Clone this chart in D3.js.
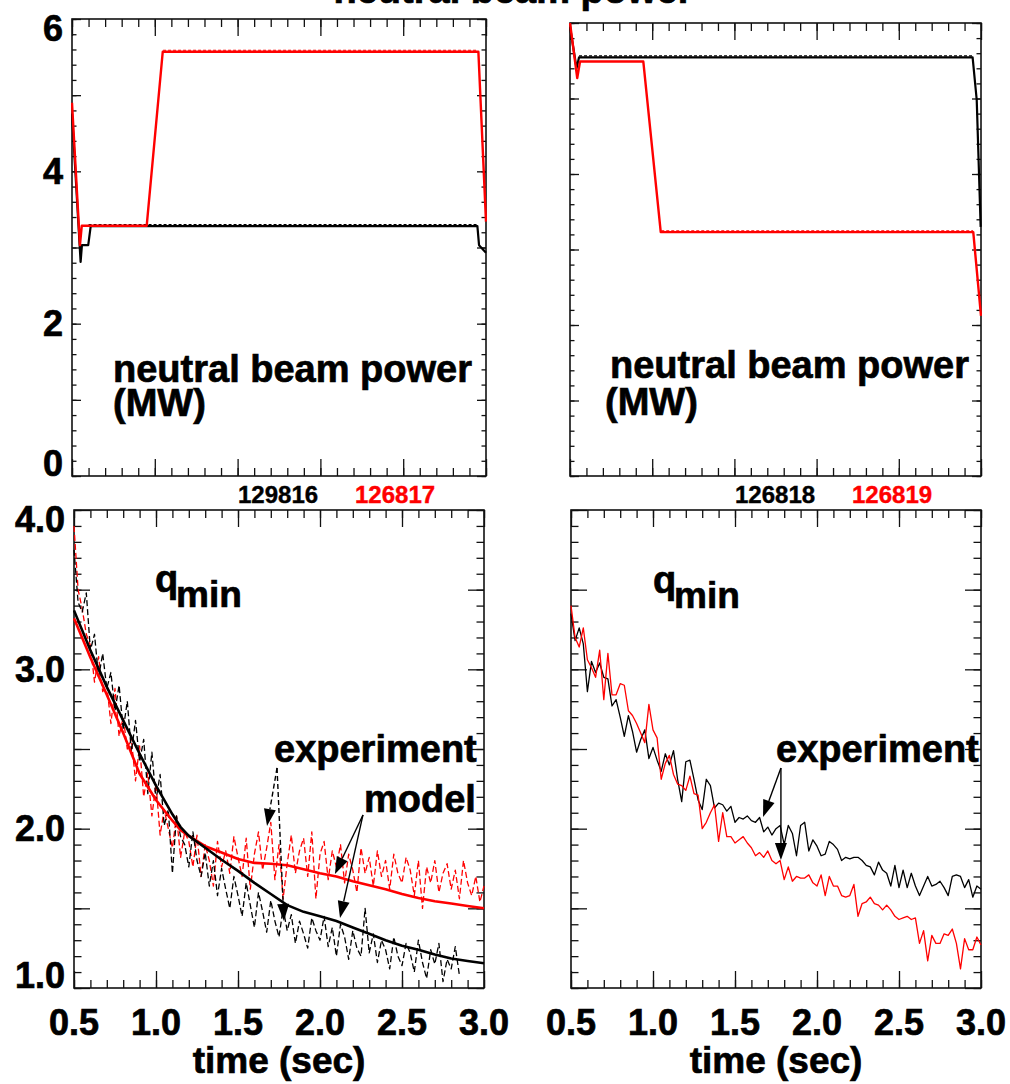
<!DOCTYPE html>
<html><head><meta charset="utf-8">
<script src="https://cdn.jsdelivr.net/npm/d3@7"></script>
<style>
html,body{margin:0;padding:0;background:#fff;}
svg{display:block;}
text{font-family:"Liberation Sans",Arial,Helvetica,sans-serif;font-weight:bold;}
</style>
</head><body>
<svg id="chart" width="1010" height="1084"></svg>
<script>
// ---------------- DATA ----------------
// Neutral beam power (MW), left: shots 129816 (black) and 126817 (red)
const nbLeftBlackT = [0.5, 0.552, 0.56, 0.598, 0.613, 2.948, 2.958, 3.0];
const nbLeftBlackV = [4.76, 2.81, 3.03, 3.03, 3.28, 3.28, 3.03, 2.93];
const nbLeftRedT   = [0.5, 0.548, 0.559, 0.951, 1.048, 2.954, 3.0];
const nbLeftRedV   = [4.90, 3.03, 3.285, 3.285, 5.57, 5.57, 3.34];
const nbLeftBlackRefT = [0.6, 2.945];
const nbLeftBlackRefV = [3.30, 3.30];
const nbLeftRedRefT   = [1.05, 2.952];
const nbLeftRedRefV   = [5.59, 5.59];
// right: shots 126818 (black) and 126819 (red)
const nbRightBlackT = [0.5, 0.54, 0.555, 2.949, 2.974, 2.998];
const nbRightBlackV = [5.95, 5.40, 5.545, 5.545, 4.98, 3.30];
const nbRightRedT   = [0.5, 0.544, 0.561, 0.946, 1.052, 2.953, 3.0];
const nbRightRedV   = [6.0, 5.27, 5.49, 5.49, 3.23, 3.23, 2.12];
const nbRightBlackRefT = [0.555, 2.948];
const nbRightBlackRefV = [5.565, 5.565];
const nbRightRedRefT   = [1.055, 2.952];
const nbRightRedRefV   = [3.248, 3.248];

// q_min model (left panel)
const modelT = [0.5,0.6,0.7,0.8,0.9,1.0,1.1,1.15,1.2,1.3,1.4,1.5,1.6,1.7,1.8,1.9,2.0,2.1,2.2,2.3,2.4,2.5,2.6,2.7,2.8,2.9,3.0];
const modelBlack = [3.37,3.12,2.89,2.68,2.47,2.27,2.09,2.01,1.955,1.88,1.805,1.735,1.66,1.59,1.52,1.478,1.45,1.42,1.38,1.34,1.30,1.265,1.24,1.21,1.185,1.17,1.155];
const modelRed   = [3.32,3.075,2.84,2.60,2.345,2.18,2.05,1.99,1.955,1.89,1.85,1.81,1.785,1.78,1.77,1.745,1.72,1.70,1.67,1.645,1.62,1.59,1.565,1.545,1.53,1.515,1.50];

// q_min experiment time base
const tExp = [0.5,0.525,0.55,0.575,0.6,0.625,0.65,0.675,0.7,0.725,0.75,0.775,0.8,0.825,0.85,0.875,0.9,0.925,0.95,0.975,
  1.0,1.025,1.05,1.075,1.1,1.125,1.15,1.175,1.2,1.225,1.25,1.275,1.3,1.325,1.35,1.375,1.4,1.425,1.45,1.475,
  1.5,1.525,1.55,1.575,1.6,1.625,1.65,1.675,1.7,1.725,1.75,1.775,1.8,1.825,1.85,1.875,1.9,1.925,1.95,1.975,
  2.0,2.025,2.05,2.075,2.1,2.125,2.15,2.175,2.2,2.225,2.25,2.275,2.3,2.325,2.35,2.375,2.4,2.425,2.45,2.475,
  2.5,2.525,2.55,2.575,2.6,2.625,2.65,2.675,2.7,2.725,2.75,2.775,2.8,2.825,2.85,2.875,2.9,2.925,2.95,2.975,3.0];

// left panel experiment (dashed)
const expLeftBlack = [3.75,3.42,3.36,3.48,3.12,3.22,2.95,3.10,2.88,2.98,2.74,2.90,2.62,2.80,2.48,2.68,2.42,2.56,2.22,2.48,
  2.18,2.34,2.02,2.12,1.72,2.08,1.95,1.90,1.76,1.98,1.80,1.70,1.85,1.64,1.80,1.58,1.75,1.62,1.50,1.70,
  1.58,1.45,1.66,1.52,1.38,1.60,1.48,1.35,1.55,1.42,1.32,1.50,1.36,1.46,1.28,1.42,1.34,1.25,1.44,1.36,
  1.30,1.45,1.26,1.38,1.20,1.40,1.32,1.18,1.36,1.25,1.20,1.50,1.22,1.34,1.16,1.30,1.24,1.12,1.32,1.20,
  1.14,1.28,1.22,1.10,1.30,1.16,1.06,1.24,1.15,1.28,1.04,1.18,1.12,1.26,1.08,null,null,null,null,null,null];
const expLeftRed = [3.90,3.50,3.38,3.22,3.15,2.92,3.08,2.86,2.90,2.66,2.88,2.58,2.70,2.50,2.56,2.30,2.52,2.20,2.35,2.08,
  2.28,1.96,2.12,2.00,1.88,2.08,1.82,1.98,1.92,1.76,1.96,1.70,1.90,1.80,1.64,1.92,1.76,1.86,1.72,1.95,
  1.82,1.70,1.94,1.62,1.84,1.98,1.74,1.88,2.04,1.68,1.90,1.56,1.78,1.96,1.72,1.86,1.94,1.70,1.98,1.56,
  1.84,1.92,1.68,1.86,1.76,1.90,1.66,1.84,1.74,1.60,1.88,1.72,1.82,1.64,1.86,1.70,1.80,1.62,1.84,1.72,
  1.66,1.82,1.74,1.58,1.80,1.50,1.76,1.66,1.80,1.60,1.72,1.78,1.62,1.74,1.56,1.80,1.66,1.58,1.70,1.54,1.64];

// right panel experiment (solid)
const expRightBlack = [3.35,3.18,3.26,3.16,2.86,3.05,2.98,3.04,2.95,2.94,2.77,2.81,2.70,2.58,2.71,2.61,2.48,2.56,2.62,2.44,
  2.51,2.43,2.36,2.47,2.40,2.49,2.31,2.17,2.42,2.43,2.31,2.18,2.12,2.31,2.27,2.13,2.16,2.15,2.11,2.14,
  2.04,2.07,2.06,2.08,2.05,2.04,2.07,1.98,2.01,1.96,2.00,2.02,1.90,2.02,1.97,1.83,2.02,2.04,1.86,1.93,
  1.89,1.83,1.84,1.92,1.90,1.87,1.80,1.82,1.81,1.82,1.82,1.80,1.77,1.76,1.71,1.79,1.74,1.72,1.64,1.77,
  1.63,1.74,1.63,1.72,1.64,1.58,1.64,1.70,1.64,1.65,1.67,1.63,1.58,1.70,1.71,1.70,1.63,1.68,1.57,1.64,1.62];
const expRightRed = [3.40,3.20,3.14,3.26,3.06,3.01,2.95,3.12,2.81,3.10,2.84,2.84,2.91,2.90,2.74,2.71,2.66,2.60,2.54,2.78,
  2.62,2.57,2.31,2.41,2.46,2.34,2.28,2.27,2.24,2.33,2.22,2.21,2.00,2.04,2.10,2.15,1.92,2.10,1.95,1.95,
  1.91,1.93,1.95,1.91,1.88,1.83,1.85,1.82,1.86,1.80,1.78,1.80,1.68,1.76,1.67,1.70,1.69,1.69,1.71,1.66,
  1.64,1.71,1.58,1.70,1.64,1.64,1.58,1.57,1.58,1.65,1.45,1.53,1.54,1.57,1.53,1.52,1.49,1.52,1.49,1.45,
  1.43,1.44,1.45,1.43,1.44,1.28,1.36,1.17,1.33,1.28,1.28,1.34,1.33,1.37,1.28,1.12,1.31,1.24,1.24,1.32,1.27];

const xTickLabels = ["0.5","1.0","1.5","2.0","2.5","3.0"];
const xTickValues = [0.5,1.0,1.5,2.0,2.5,3.0];
const nbTickValues = [0,2,4,6];
const nbTickLabels = ["0","2","4","6"];
const qTickValues = [1,2,3,4];
const qTickLabels = ["1.0","2.0","3.0","4.0"];
const shotsLeft = ["129816","126817"];
const shotsRight = ["126818","126819"];

// annotation arrows in data units [t0,v0,t1,v1]
const arrowsLeftExp   = [[1.738,2.381,1.677,2.017],[1.738,2.381,1.780,1.421]];
const arrowsLeftModel = [[2.262,2.086,2.091,1.716],[2.262,2.086,2.122,1.439]];
const arrowsRight     = [[1.780,2.381,1.671,2.073],[1.780,2.381,1.780,1.804]];

// ---------------- DRAW ----------------
const svg = d3.select("#chart");
const RED = "#ff0000", BLACK = "#000000";

function makePanel(p) {
  const g = svg.append("g");
  const x = d3.scaleLinear().domain([0.5, 3.0]).range([p.x0, p.x1]);
  const y = d3.scaleLinear().domain(p.yDomain).range([p.y1, p.y0]);
  const xMinor = d3.range(5, 31).map(d => d / 10);
  const addAxis = (axis, tr) => {
    const a = g.append("g").attr("transform", tr).call(axis);
    a.select(".domain").remove();
    a.selectAll("text").remove();
    a.selectAll("line").attr("stroke", "#111").attr("stroke-width", 1.3);
  };
  addAxis(d3.axisBottom(x).tickValues(xMinor).tickSize(-8).tickFormat(""), `translate(0,${p.y1})`);
  addAxis(d3.axisBottom(x).tickValues(xTickValues).tickSize(-17).tickFormat(""), `translate(0,${p.y1})`);
  addAxis(d3.axisTop(x).tickValues(xMinor).tickSize(-8).tickFormat(""), `translate(0,${p.y0})`);
  addAxis(d3.axisTop(x).tickValues(xTickValues).tickSize(-17).tickFormat(""), `translate(0,${p.y0})`);
  addAxis(d3.axisLeft(y).tickValues(p.yMinor).tickSize(-p.yMinLen).tickFormat(""), `translate(${p.x0},0)`);
  addAxis(d3.axisLeft(y).tickValues(p.yMajor).tickSize(-p.yMajLen).tickFormat(""), `translate(${p.x0},0)`);
  addAxis(d3.axisRight(y).tickValues(p.yMinor).tickSize(-p.yMinLen).tickFormat(""), `translate(${p.x1},0)`);
  addAxis(d3.axisRight(y).tickValues(p.yMajor).tickSize(-p.yMajLen).tickFormat(""), `translate(${p.x1},0)`);
  g.append("rect").attr("x", p.x0).attr("y", p.y0).attr("width", p.x1 - p.x0).attr("height", p.y1 - p.y0)
    .attr("fill", "none").attr("stroke", "#111").attr("stroke-width", 1.6);
  const clipId = "clip" + Math.round(p.x0) + "_" + Math.round(p.y0);
  svg.append("clipPath").attr("id", clipId).append("rect")
    .attr("x", p.x0 - 1).attr("y", p.y0 - 2).attr("width", p.x1 - p.x0 + 2).attr("height", p.y1 - p.y0 + 4);
  const plot = g.append("g").attr("clip-path", `url(#${clipId})`);
  return { g, plot, x, y, p };
}

function drawLine(P, ts, vs, color, width, dash) {
  const pts = ts.map((t, i) => [t, vs[i]]);
  const line = d3.line().defined(d => d[1] !== null && d[1] !== undefined).x(d => P.x(d[0])).y(d => P.y(d[1]));
  P.plot.append("path").attr("d", line(pts)).attr("fill", "none").attr("stroke", color)
    .attr("stroke-width", width).attr("stroke-linejoin", "round")
    .attr("stroke-dasharray", dash || null);
}

function drawArrow(P, a, dash) {
  const x0 = P.x(a[0]), y0 = P.y(a[1]), x1 = P.x(a[2]), y1 = P.y(a[3]);
  const dx = x1 - x0, dy = y1 - y0, L = Math.hypot(dx, dy), ux = dx / L, uy = dy / L;
  const hl = 17, hw = 6;
  const bx = x1 - ux * hl, by = y1 - uy * hl;
  P.g.append("line").attr("x1", x0).attr("y1", y0).attr("x2", bx).attr("y2", by)
    .attr("stroke", BLACK).attr("stroke-width", 1.4).attr("stroke-dasharray", dash || null);
  P.g.append("path").attr("d", `M${x1},${y1}L${bx - uy * hw},${by + ux * hw}L${bx + uy * hw},${by - ux * hw}Z`)
    .attr("fill", BLACK);
}

function text(x, y, s, size, color, anchor) {
  const c = color || BLACK;
  return svg.append("text").attr("x", x).attr("y", y).attr("font-size", size)
    .attr("fill", c).attr("stroke", c).attr("stroke-width", size > 30 ? 0.7 : 0.4)
    .attr("text-anchor", anchor || "start").text(s);
}

function yLabels(P, vals, labels) {
  vals.forEach((v, i) => {
    let yc = P.y(v);
    yc = Math.max(P.p.y0 + 9, Math.min(P.p.y1 - 13, yc));
    text(P.p.x0 - 9, yc + 12.5, labels[i], 36, BLACK, "end");
  });
}

const nbMinor = d3.range(0, 31).map(d => d / 5);
const nbMajor = [0,1,2,3,4,5,6];
const qMinor = d3.range(10, 41).map(d => d / 10);
const qMajor = [1,1.5,2,2.5,3,3.5,4];

const TL = makePanel({x0: 72, x1: 486, y0: 19, y1: 476, yDomain: [0, 6], yMinor: nbMinor, yMajor: nbMajor, yMinLen: 4.5, yMajLen: 9});
const TR = makePanel({x0: 570, x1: 981, y0: 23, y1: 476, yDomain: [0, 6], yMinor: nbMinor, yMajor: nbMajor, yMinLen: 4.5, yMajLen: 9});
const BL = makePanel({x0: 74, x1: 484, y0: 510, y1: 988, yDomain: [1, 4], yMinor: qMinor, yMajor: qMajor, yMinLen: 7.5, yMajLen: 16});
const BR = makePanel({x0: 571, x1: 981, y0: 510, y1: 988, yDomain: [1, 4], yMinor: qMinor, yMajor: qMajor, yMinLen: 7.5, yMajLen: 16});

// top panels
drawLine(TL, nbLeftBlackRefT, nbLeftBlackRefV, BLACK, 1.2, "3,2");
drawLine(TL, nbLeftBlackT, nbLeftBlackV, BLACK, 2.2);
drawLine(TL, nbLeftRedRefT, nbLeftRedRefV, RED, 1.2, "3,2");
drawLine(TL, nbLeftRedT, nbLeftRedV, RED, 2.4);

drawLine(TR, nbRightBlackRefT, nbRightBlackRefV, BLACK, 1.2, "3,2");
drawLine(TR, nbRightBlackT, nbRightBlackV, BLACK, 2.2);
drawLine(TR, nbRightRedRefT, nbRightRedRefV, RED, 1.2, "3,2");
drawLine(TR, nbRightRedT, nbRightRedV, RED, 2.4);

// bottom-left
drawLine(BL, tExp, expLeftRed, RED, 1.3, "6,3");
drawLine(BL, tExp, expLeftBlack, BLACK, 1.3, "6,3");
drawLine(BL, modelT, modelRed, RED, 2.6);
drawLine(BL, modelT, modelBlack, BLACK, 2.6);

// bottom-right
drawLine(BR, tExp, expRightBlack, BLACK, 1.3);
drawLine(BR, tExp, expRightRed, RED, 1.3);

// arrows
arrowsLeftExp.forEach(a => drawArrow(BL, a, "5,3"));
arrowsLeftModel.forEach(a => drawArrow(BL, a));
arrowsRight.forEach(a => drawArrow(BR, a));

// tick labels
yLabels(TL, nbTickValues, nbTickLabels);
yLabels(BL, qTickValues, qTickLabels);
[BL, BR].forEach(P => {
  xTickValues.forEach((t, i) => text(P.x(t), 1035, xTickLabels[i], 36, BLACK, "middle"));
  text((P.p.x0 + P.p.x1) / 2, 1073, "time (sec)", 37, BLACK, "middle");
});

// titles & labels
text(513, 3, "neutral beam power", 38, BLACK, "middle");
text(113, 382, "neutral beam power", 38);
text(113, 416, "(MW)", 38);
text(610, 378, "neutral beam power", 38);
text(605, 415, "(MW)", 38);

text(238, 503, shotsLeft[0], 24, BLACK);
text(355, 503, shotsLeft[1], 24, RED);
text(735, 503, shotsRight[0], 24, BLACK);
text(852, 503, shotsRight[1], 24, RED);

text(155, 592, "q", 38);
text(176, 607, "min", 37);
text(653, 593, "q", 38);
text(674, 608, "min", 37);

text(274, 762, "experiment", 38);
text(364, 812, "model", 38);
text(776, 762, "experiment", 38);
</script>
</body></html>
